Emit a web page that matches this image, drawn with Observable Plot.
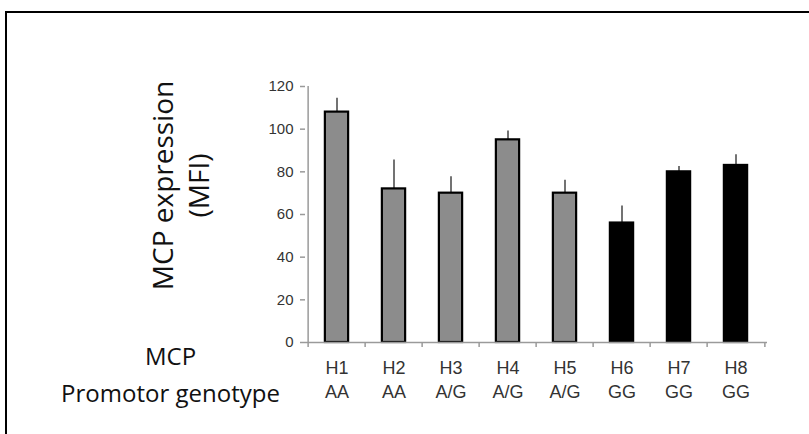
<!DOCTYPE html>
<html>
<head>
<meta charset="utf-8">
<script src="https://cdn.jsdelivr.net/npm/d3@7"></script>
<script src="https://cdn.jsdelivr.net/npm/@observablehq/plot@0.6"></script>
<style>
  html, body { margin: 0; padding: 0; background: white; }
  #wrap { position: relative; width: 809px; height: 434px; overflow: hidden; }
  #border { position: absolute; left: 5px; top: 11px; width: 820px; height: 440px;
            border-top: 2px solid #000; border-left: 2px solid #000; pointer-events: none; }
</style>
</head>
<body>
<div id="wrap"><div id="border"></div></div>
<script>
// Data
const haplotypes = ["H1", "H2", "H3", "H4", "H5", "H6", "H7", "H8"];
const genotypes  = ["AA", "AA", "A/G", "A/G", "A/G", "GG", "GG", "GG"];
const mfi        = [108, 72, 70, 95, 70, 56, 80, 83];
const errUpper   = [6.5, 13.5, 7.7, 4.1, 6.1, 8, 2.5, 5];
const yTicks     = [0, 20, 40, 60, 80, 100, 120];
const yLabel     = "MCP expression\n(MFI)";
const rowLabel   = "MCP\nPromotor genotype";

const data = haplotypes.map((h, i) => ({h, g: genotypes[i], v: mfi[i], e: mfi[i] + errUpper[i]}));

const W = 809, H = 434, ML = 305, MR = 42, MT = 86, MB = 92;
const step = (W - ML - MR) / haplotypes.length;
const barW = 24;
const inset = (step - barW) / 2;
const capInset = (step - 8) / 2;
const axisGray = "#9a9a9a";

const chart = Plot.plot({
  width: W, height: H,
  marginLeft: ML, marginRight: MR, marginTop: MT, marginBottom: MB,
  style: {fontFamily: "'Liberation Sans', Arial, sans-serif", background: "white", color: "#333", overflow: "visible"},
  x: {domain: haplotypes, padding: 0, axis: null},
  y: {domain: [0, 120], axis: null},
  color: {domain: ["AA", "A/G", "GG"], range: ["#8c8c8c", "#8c8c8c", "#000000"]},
  marks: [
    // error bars
    Plot.ruleX(data, {x: "h", y1: "v", y2: "e", stroke: "#444", strokeWidth: 1.5}),
    Plot.ruleY(data, {x: "h", y: "e", stroke: "#444", strokeWidth: 1.5, insetLeft: capInset, insetRight: capInset}),
    // bars
    Plot.barY(data, {x: "h", y: "v", fill: "g", stroke: "#000", strokeWidth: 2.2, insetLeft: inset, insetRight: inset}),
    // axis lines
    Plot.ruleY([0], {stroke: axisGray, strokeWidth: 1.5}),
    Plot.ruleX([haplotypes[0]], {y1: 0, y2: 120, dx: -step / 2, stroke: axisGray, strokeWidth: 1.5}),
    // x ticks at band boundaries
    Plot.ruleX(haplotypes, {y1: 0, y2: 0, dx: -step / 2, insetBottom: -5, stroke: axisGray, strokeWidth: 1.5}),
    Plot.ruleX([haplotypes[haplotypes.length - 1]], {y1: 0, y2: 0, dx: step / 2, insetBottom: -5, stroke: axisGray, strokeWidth: 1.5}),
    // y axis ticks and labels
    Plot.axisY({ticks: yTicks, tickSize: 5, tickPadding: 7, fontSize: 15, stroke: axisGray, strokeWidth: 1.5, fill: "#333", label: null}),
    // x labels
    Plot.axisX({tickSize: 0, tickPadding: 15, fontSize: 18, lineHeight: 1.33, fill: "#333",
      tickFormat: (d) => d + "\n" + genotypes[haplotypes.indexOf(d)], label: null}),
    // y label
    Plot.text([yLabel], {frameAnchor: "left", dx: 179 - ML, dy: 185 - (MT + (H - MT - MB) / 2), rotate: -90,
      fontSize: 28, lineHeight: 1.3, textAnchor: "middle", lineAnchor: "middle",
      fontFamily: "'Open Sans', sans-serif", fill: "#111"}),
    // row label
    Plot.text([rowLabel], {frameAnchor: "bottom-left", dx: 170 - ML, dy: -4, lineAnchor: "top", textAnchor: "middle",
      fontSize: 24, lineHeight: 1.55, fontFamily: "'Open Sans', sans-serif", fill: "#111"})
  ]
});
document.getElementById("wrap").insertBefore(chart, document.getElementById("border"));
</script>
</body>
</html>
